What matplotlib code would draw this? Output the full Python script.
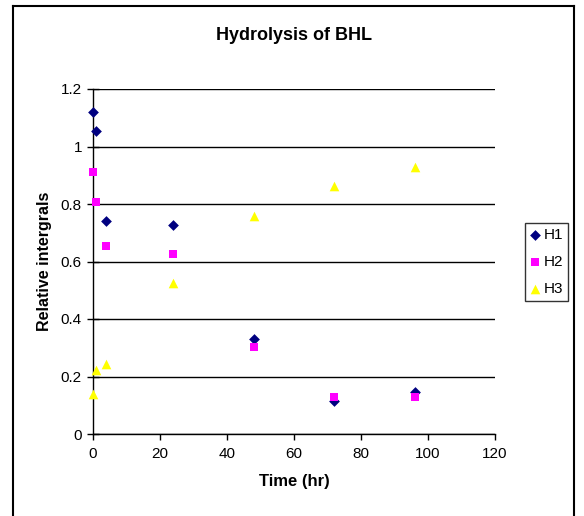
import matplotlib
matplotlib.use("Agg")
import matplotlib.pyplot as plt
from matplotlib.lines import Line2D

plt.rcParams['font.family'] = ['Liberation Sans', 'DejaVu Sans']

# Sampling times (hr) and relative integrals for each proton signal
time_hr = [0, 1, 4, 24, 48, 72, 96]
h1 = [1.12, 1.055, 0.74, 0.727, 0.33, 0.115, 0.145]
h2 = [0.912, 0.806, 0.655, 0.627, 0.303, 0.128, 0.128]
h3 = [0.14, 0.222, 0.245, 0.525, 0.758, 0.864, 0.928]

x_ticks = [0, 20, 40, 60, 80, 100, 120]
y_ticks = [0, 0.2, 0.4, 0.6, 0.8, 1, 1.2]
y_tick_labels = ['0', '0.2', '0.4', '0.6', '0.8', '1', '1.2']

W, H = 584, 516
fig = plt.figure(figsize=(W / 100, H / 100), dpi=100)
fig.patch.set_facecolor('white')

# Outer chart frame (left, top, right edges)
fx0, fy0, fx1 = 13 / W, 1 - 6 / H, 574 / W
for xs, ys in [([fx0, fx0], [0, fy0]), ([fx0, fx1], [fy0, fy0]), ([fx1, fx1], [fy0, 0])]:
    fig.add_artist(Line2D(xs, ys, transform=fig.transFigure, color='black', lw=1.5))

ax = fig.add_axes([93 / W, 1 - 434 / H, (495 - 93) / W, (434 - 89) / H])

ax.scatter(time_hr, h1, marker='D', s=30, color='#000080', label='H1', zorder=3,
           linewidths=0, clip_on=False)
ax.scatter(time_hr, h2, marker='s', s=36, color='#FF00FF', label='H2', zorder=3,
           linewidths=0, clip_on=False)
ax.scatter(time_hr, h3, marker='^', s=48, color='#FFFF00', label='H3', zorder=3,
           linewidths=0, clip_on=False)

ax.set_xlim(0, 120)
ax.set_ylim(0, 1.2)
ax.set_xticks(x_ticks)
ax.set_yticks(y_ticks)
ax.set_yticklabels(y_tick_labels)

ax.yaxis.grid(True, color='black', lw=1)
ax.set_axisbelow(True)
for side in ['top', 'right']:
    ax.spines[side].set_visible(False)
for side in ['left', 'bottom']:
    ax.spines[side].set_color('black')
    ax.spines[side].set_linewidth(1)

ax.tick_params(axis='x', direction='out', length=4, width=1, labelsize=11, pad=5)
ax.tick_params(axis='y', direction='inout', length=8, width=1, labelsize=11, pad=4)

ax.set_title('Hydrolysis of BHL', fontsize=13, fontweight='bold', pad=35)
ax.set_xlabel('Time (hr)', fontsize=12, fontweight='bold', labelpad=10)
ax.set_ylabel('Relative intergrals', fontsize=11.5, fontweight='bold', labelpad=6)

leg = ax.legend(loc='center left', bbox_to_anchor=(525 / W, 1 - 262 / H),
                bbox_transform=fig.transFigure, frameon=True, fancybox=False,
                edgecolor='black', fontsize=11, handlelength=0.6, handletextpad=0.25,
                borderpad=0.35, borderaxespad=0, labelspacing=0.85)
leg.get_frame().set_linewidth(1)

fig.savefig('out.png', dpi=100, facecolor='white')
